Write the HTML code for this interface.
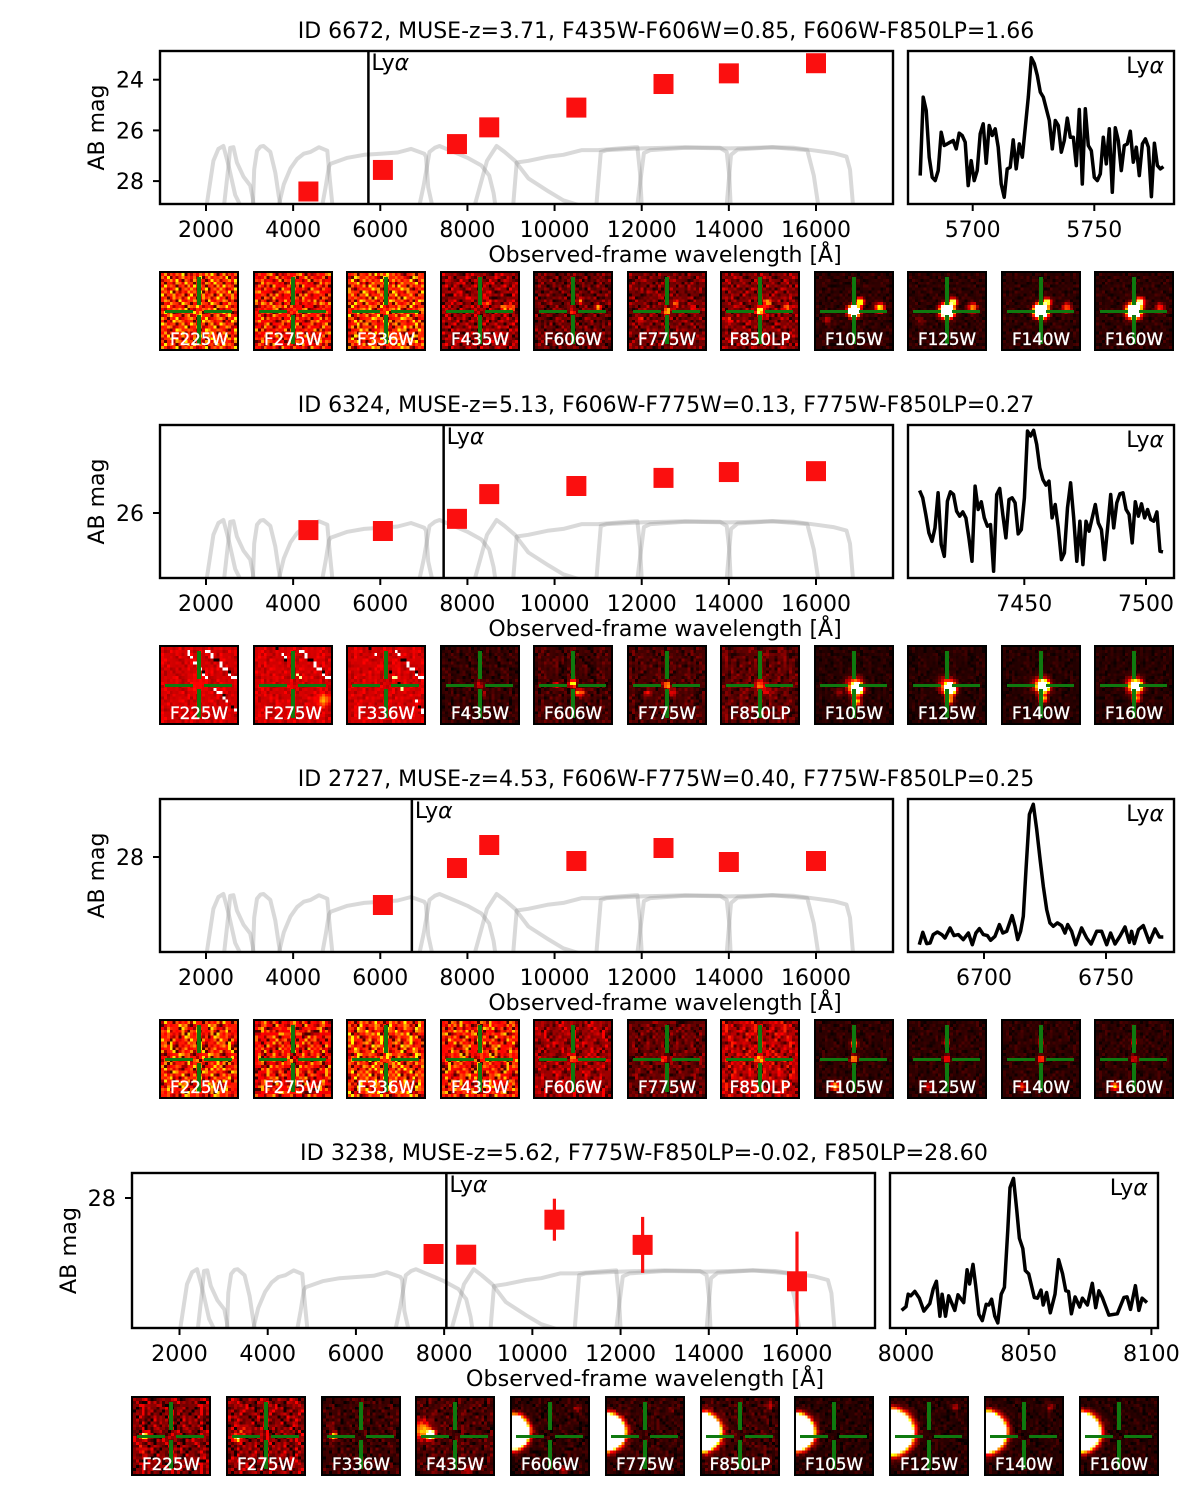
<!DOCTYPE html>
<html lang="en">
<head>
<meta charset="utf-8">
<title>MUSE Lyman-alpha emitters SED panels</title>
<style>
html,body{margin:0;padding:0;background:#fff}
#fig{position:relative;width:1200px;height:1502px;overflow:hidden;background:#fff;font-family:"DejaVu Sans","Liberation Sans",sans-serif}
#fig svg.main{position:absolute;left:0;top:0}
svg text{font-family:"DejaVu Sans","Liberation Sans",sans-serif;fill:#000}
.stamp{position:absolute;box-sizing:border-box;border:2.5px solid #000;background:#000;overflow:hidden}
.stamp canvas{position:absolute;left:0;top:0;width:100%;height:100%;image-rendering:pixelated}
.arm{position:absolute;background:#0f7a0f}
.lab{position:absolute;left:-10px;right:-10px;text-align:center;color:#fff;font-size:16.7px;line-height:20px;top:56px;-webkit-text-stroke:.35px #fff}
</style>
</head>
<body>
<div id="fig">
<svg class="main" id="plot" width="1200" height="1502" viewBox="0 0 1200 1502" xmlns="http://www.w3.org/2000/svg"></svg>
</div>
<script>
// ---- filter throughput curves: [wavelength, relative throughput]
const curveF225W=[[2015,0],[2170,.75],[2285,.95],[2400,1],[2515,.68],[2670,.17],[2785,0]];
const curveF275W=[[2415,0],[2515,.65],[2555,.97],[2630,.98],[2710,.72],[2860,.48],[3015,.33],[3077,.1],[3092,0]];
const curveF336W=[[3077,0],[3107,.6],[3170,.92],[3250,.99],[3320,1],[3475,.9],[3590,.55],[3670,.15],[3707,0]];
const curveF435W=[[3670,0],[3785,.35],[3940,.62],[4090,.78],[4245,.87],[4400,.9],[4590,.98],[4785,.92],[4845,.4],[4900,0]];
const curveF606W=[[4670,0],[4745,.3],[4820,.65],[4860,.7],[5245,.8],[5630,.85],[6015,.87],[6400,.89],[6705,.95],[7010,.87],[7050,.82],[7100,.3],[7190,0]];
const curveF775W=[[6900,0],[7000,.35],[7130,.9],[7250,.97],[7360,1],[7550,.94],[7780,.87],[8000,.8],[8320,.67],[8500,.5],[8600,.2],[8640,0]];
const curveF850LP=[[8170,0],[8300,.35],[8450,.75],[8670,1],[8850,.9],[9090,.75],[9400,.45],[9860,.23],[10200,.08],[10550,0]];
const curveF105W=[[9050,0],[9130,.72],[9400,.75],[9860,.82],[10200,.85],[10630,.93],[11000,.93],[11500,.96],[11900,.98],[11960,.55],[12000,0]];
const curveF125W=[[10960,0],[11060,.9],[11200,.93],[12000,.96],[13000,.98],[13800,.97],[13950,.9],[14010,.5],[14040,0]];
const curveF140W=[[11900,0],[12050,.88],[12200,.93],[13000,.97],[14000,.96],[15000,.98],[15800,.93],[15950,.5],[16050,0]];
const curveF160W=[[13950,0],[14050,.85],[14200,.94],[15000,.98],[15500,.97],[16000,.92],[16400,.88],[16700,.82],[16780,.6],[16850,0]];
const filterCurves=[curveF225W,curveF275W,curveF336W,curveF435W,curveF606W,curveF775W,curveF850LP,curveF105W,curveF125W,curveF140W,curveF160W];
const filterNames=["F225W","F275W","F336W","F435W","F606W","F775W","F850LP","F105W","F125W","F140W","F160W"];

// ---- photometry
const wavesP1=[4350,6060,7760,8500,10500,12500,14000,16000];
const magsP1=[28.41,27.56,26.54,25.88,25.1,24.17,23.75,23.35];
const wavesP2=[4350,6060,7760,8500,10500,12500,14000,16000];
const magsP2=[26.38,26.4,26.13,25.58,25.4,25.22,25.09,25.07];
const wavesP3=[6060,7760,8500,10500,12500,14000,16000];
const magsP3=[28.96,28.22,27.76,28.08,27.82,28.1,28.08];
const wavesP4=[7760,8500,10500,12500,16000];
const magsP4=[28.8,28.81,28.31,28.67,29.19];
const errsP4=[0,0,.3,.4,.71];

// ---- redshift + titles
const redshifts=[3.71,5.13,4.53,5.62];
const titles=["ID 6672, MUSE-z=3.71, F435W-F606W=0.85, F606W-F850LP=1.66","ID 6324, MUSE-z=5.13, F606W-F775W=0.13, F775W-F850LP=0.27","ID 2727, MUSE-z=4.53, F606W-F775W=0.40, F775W-F850LP=0.25","ID 3238, MUSE-z=5.62, F775W-F850LP=-0.02, F850LP=28.60"];
const magTicksP1=[24,26,28];
const magTicksP2=[26];
const magTicksP3=[28];
const magTicksP4=[28];
const waveTicks=[2000,4000,6000,8000,10000,12000,14000,16000];
const specTicksP1=[5700,5750];
const specTicksP2=[7450,7500];
const specTicksP3=[6700,6750];
const specTicksP4=[8000,8050,8100];

// ---- Lya spectra (flux in arbitrary units, wavelength in Angstrom)
const fluxP1=[85,320,280,140,80,70,100,215,175,180,185,190,165,212,205,185,55,130,70,100,210,240,122,235,205,225,170,60,20,105,110,192,105,180,140,230,320,438,420,385,335,320,285,250,165,250,235,155,190,257,200,200,115,283,60,285,175,160,80,70,90,200,120,225,35,228,190,100,175,180,218,125,170,85,180,195,170,22,182,115,105,112];
const fluxP2=[262,240,190,135,110,150,255,100,65,230,258,250,200,185,198,180,120,50,275,205,228,180,155,160,20,250,268,190,120,235,240,225,132,145,240,440,425,442,400,330,295,278,290,180,220,150,55,75,210,285,180,50,170,40,170,140,180,220,165,145,55,150,250,150,225,252,255,205,190,105,228,185,222,180,205,175,170,198,80,78];
const waveP3=[6673.5,6674.9,6676.5,6677.9,6679.2,6680.9,6682.7,6684,6686.1,6687.7,6689.5,6691.5,6693.6,6695.2,6696.7,6698.1,6699.7,6701.4,6702.7,6704.5,6706.3,6707.7,6709.3,6711.5,6712.7,6713.8,6715,6716.1,6717.2,6718.6,6720.2,6721.6,6723,6724.3,6725.7,6727,6728.4,6730.1,6731.8,6733.2,6734.3,6735.9,6737.6,6740,6742.1,6743.9,6746.2,6748.2,6750.3,6751.9,6753.7,6755.7,6757.8,6759.6,6760.5,6761.6,6763.3,6765.3,6767.8,6770.1,6771.9,6773.5];
const fluxP3=[22,59,25,27,52,60,52,42,72,49,52,37,57,22,57,70,52,49,35,47,82,57,62,109,77,37,62,107,247,412,442,367,277,197,127,87,77,87,79,57,82,62,22,72,42,24,62,62,22,57,24,47,75,29,62,25,67,79,29,69,45,45];
const waveP4=[7998.2,8000,8000.9,8001.9,8003.6,8005.4,8007.3,8009.7,8011.1,8012.4,8013.8,8014.7,8016.1,8017.4,8019.9,8021.2,8023.5,8024.9,8025.9,8027.3,8028.4,8029.7,8031.1,8032.7,8033.8,8034.9,8036.2,8037.4,8038.8,8040.1,8041.5,8042.4,8043.8,8045.1,8046.2,8047.6,8048.6,8050,8052.3,8053.6,8055,8055.9,8057.3,8058.8,8060.7,8062.2,8063.8,8065.1,8066.2,8067.4,8068.9,8070.8,8071.9,8073.9,8075.9,8077.3,8078.6,8080,8082.7,8086.1,8088.8,8090.1,8091.5,8093.5,8094.9,8096.2,8098.2];
const fluxP4=[52,63,100,95,108,88,50,72,115,138,35,100,35,95,52,98,75,172,130,188,125,40,22,70,68,85,35,15,100,120,290,415,442,350,265,235,170,160,90,88,112,68,105,45,100,202,160,110,108,42,92,62,88,68,132,60,110,90,38,42,90,92,55,125,52,88,75];
const specRangeP1=[5678.4,5778.4];
const specRangeP2=[7407,7507];

// ---- image stamp levels: [background, noise, sources[x,y,peak,sigma], streaks[x0,y0,x1,y1,level]]
const noiseTile=["38162749051627384950","72904158362719048365","15683920741856302947","60431872956043187295","29574036182957403618","84126905738412690573","47390615284739061528","91658247039165824703","36028471593602847159","58714093265871409326","03286519740328651974","76941352087694135208","21537684902153768490","69480127356948012735","12795340681279534068","85063912478506391247","40319786254031978625","97256048139725604813","34871265903487126590","63102984576310298457"];
const stampsP1=[[.42,.2,[],[]],[.37,.17,[],[]],[.42,.2,[],[]],[.2,.11,[[.82,.46,.5,.025],[.92,.46,.5,.025],[.58,.4,.3,.03]],[]],[.13,.08,[[.5,.5,.25,.03],[.83,.46,.6,.025],[.6,.36,.4,.025]],[]],[.15,.08,[[.5,.5,.6,.03],[.62,.4,.4,.03],[.84,.47,.4,.025],[.15,.62,.25,.03]],[]],[.17,.09,[[.5,.5,.8,.035],[.6,.38,.5,.035],[.85,.46,.5,.03],[.1,.62,.25,.03]],[]],[.05,.03,[[.5,.5,2.5,.045],[.58,.38,.9,.035],[.84,.46,.8,.04],[.15,.62,.25,.035]],[]],[.05,.03,[[.5,.5,3.5,.05],[.58,.38,.9,.035],[.84,.46,.6,.04],[.15,.62,.12,.04]],[]],[.05,.03,[[.5,.5,4,.05],[.58,.38,.9,.035],[.84,.46,.5,.04]],[]],[.05,.03,[[.5,.5,3,.055],[.58,.38,.9,.04],[.84,.46,.4,.04]],[]]];
const stampsP2=[[.29,.04,[[.5,.5,.06,.08]],[[.35,.05,.6,.4,.9],[.6,.05,.98,.42,.8],[.72,.55,.98,.82,.9]]],[.29,.04,[[.9,.7,.35,.05]],[[.3,.03,.42,.18,.9],[.58,.03,.98,.42,.9],[.55,.35,.6,.4,.7]]],[.29,.04,[],[[.3,.03,.36,.08,.9],[.6,.03,.98,.42,.9],[.55,.32,.72,.55,.7],[.9,.72,.98,.85,.8]]],[.06,.04,[[.5,.5,.22,.04],[.56,.62,.15,.03]],[]],[.08,.05,[[.5,.48,.8,.03],[.55,.6,.4,.035],[.28,.5,.35,.025],[.62,.6,.4,.03]],[]],[.09,.05,[[.5,.5,.6,.03],[.55,.6,.3,.035],[.25,.6,.25,.03]],[]],[.12,.06,[[.5,.5,.45,.04],[.58,.58,.25,.035]],[]],[.04,.025,[[.5,.5,.5,.07],[.54,.55,2.5,.045],[.53,.72,.8,.035],[.3,.6,.15,.04]],[]],[.04,.025,[[.5,.5,.45,.07],[.54,.55,2.2,.045],[.53,.7,.7,.035]],[]],[.04,.025,[[.5,.5,.5,.07],[.53,.52,2.2,.045],[.53,.68,.7,.035]],[]],[.04,.025,[[.5,.5,.5,.07],[.53,.52,1.8,.045],[.53,.68,.6,.035]],[]]];
const stampsP3=[[.4,.2,[],[]],[.36,.18,[],[]],[.42,.21,[],[]],[.38,.19,[],[]],[.21,.09,[[.5,.5,.6,.025]],[]],[.13,.07,[[.45,.5,.4,.03]],[]],[.25,.11,[[.5,.5,.6,.03]],[]],[.05,.03,[[.5,.5,.7,.03],[.5,.3,.6,.03],[.25,.86,.9,.035]],[]],[.05,.03,[[.5,.5,.4,.03],[.5,.28,.25,.03],[.25,.86,.3,.035]],[]],[.05,.03,[[.5,.5,.5,.03],[.5,.28,.25,.03],[.25,.86,.4,.035]],[]],[.05,.03,[[.5,.5,.35,.03],[.5,.28,.3,.03],[.25,.86,.7,.035]],[]]];
const stampsP4=[[.17,.11,[[.15,.5,.8,.03],[.1,.68,.15,.04]],[]],[.18,.11,[[.12,.52,.7,.035],[.2,.42,.25,.035]],[]],[.07,.05,[[.14,.5,.8,.03],[.1,.35,.15,.03]],[]],[.09,.06,[[.07,.42,.6,.08],[.18,.48,1.5,.035],[.68,.95,.25,.03]],[]],[.05,.04,[[0,.45,30,.085],[.85,.14,.25,.03],[.68,.95,.25,.03]],[]],[.06,.04,[[0,.45,30,.09],[.85,.14,.12,.03]],[]],[.07,.05,[[0,.45,30,.093],[.9,.1,.2,.03]],[]],[.04,.03,[[0,.45,30,.09]],[]],[.04,.03,[[0,.45,30,.11],[.85,.12,.25,.03]],[]],[.04,.03,[[0,.45,30,.1],[.85,.12,.25,.03]],[]],[.04,.03,[[0,.45,30,.095]],[]]];

// ---- helpers
const NS="http://www.w3.org/2000/svg";
const plot=document.getElementById("plot");
const fig=document.getElementById("fig");
function svgEl(tag,attrs,parent){
  const el=document.createElementNS(NS,tag);
  for(const k in attrs){el.setAttribute(k,attrs[k]);}
  (parent||plot).appendChild(el);
  return el;
}
function linear(v0,p0,v1,p1){return v=>p0+(v-v0)*(p1-p0)/(v1-v0);}
function lya(z){return 1216*(1+z);}
function uniformWaves(n,range){return Array.from({length:n},(_,i)=>range[0]+i*(range[1]-range[0])/(n-1));}

const panels=[
 {key:"p1",F:22,top:51,bottom:204,left:160,right:893,sl:908,sr:1174,xs:linear(2000,206,16000,816),ys:linear(24,79.7,28,181.1),sx:linear(5700,972.7,5750,1094.3),magTicks:magTicksP1,specTicks:specTicksP1,waves:wavesP1,mags:magsP1,errs:null,specW:uniformWaves(fluxP1.length,specRangeP1),specF:fluxP1,labX:96,tc:666,lx:665,stampTop:271,stampX:159,stampStep:93.5},
 {key:"p2",F:22,top:425,bottom:578,left:160,right:893,sl:908,sr:1174,xs:linear(2000,206,16000,816),ys:linear(26,513,28,603),sx:linear(7450,1024.3,7500,1146),magTicks:magTicksP2,specTicks:specTicksP2,waves:wavesP2,mags:magsP2,errs:null,specW:uniformWaves(fluxP2.length,specRangeP2),specF:fluxP2,labX:96,tc:666,lx:665,stampTop:645,stampX:159,stampStep:93.5},
 {key:"p3",F:22,top:799,bottom:952,left:160,right:893,sl:908,sr:1174,xs:linear(2000,206,16000,816),ys:linear(28,857,30,957),sx:linear(6700,984,6750,1106),magTicks:magTicksP3,specTicks:specTicksP3,waves:wavesP3,mags:magsP3,errs:null,specW:waveP3,specF:fluxP3,labX:96,tc:666,lx:665,stampTop:1019,stampX:159,stampStep:93.5},
 {key:"p4",F:22.3,top:1173,bottom:1328,left:132,right:875,sl:890,sr:1158,xs:linear(2000,179.5,16000,797),ys:linear(28,1198,30,1338),sx:linear(8000,906,8050,1028.7),magTicks:magTicksP4,specTicks:specTicksP4,waves:wavesP4,mags:magsP4,errs:errsP4,specW:waveP4,specF:fluxP4,labX:68,tc:644,lx:645,stampTop:1396,stampX:131,stampStep:94.75}
];
const stampSets=[stampsP1,stampsP2,stampsP3,stampsP4];

panels.forEach((p,pi)=>{
  const H=p.bottom-p.top;
  const F=p.F;
  const defs=svgEl("defs",{});
  const cp=svgEl("clipPath",{id:"clip-"+p.key},defs);
  svgEl("rect",{x:p.left,y:p.top,width:p.right-p.left,height:H},cp);
  const g=svgEl("g",{"clip-path":"url(#clip-"+p.key+")"});
  
  

  filterCurves.forEach((c,ci)=>{
    const d=c.map((pt,i)=>(i?"L":"M")+p.xs(pt[0]).toFixed(1)+" "+(p.bottom-pt[1]*59*H/153+1).toFixed(1)).join(" ");
    const path=svgEl("path",{d:d,fill:"none",stroke:"#8c8c8c","stroke-opacity":".33","stroke-width":4,"stroke-linejoin":"round"},g);
    
    
  });

  const lyX=p.xs(lya(redshifts[pi]));
  const line=svgEl("line",{x1:lyX,x2:lyX,y1:p.top,y2:p.bottom,stroke:"#000","stroke-width":2.5},g);
  
  

  p.waves.forEach((w,i)=>{
    const cx=p.xs(w),cy=p.ys(p.mags[i]);
    if(p.errs&&p.errs[i]>0){
      const up=p.ys(p.mags[i]-p.errs[i]),dn=p.ys(p.mags[i]+p.errs[i]);
      const eb=svgEl("line",{x1:cx,x2:cx,y1:up,y2:dn,stroke:"#fb1010","stroke-width":3.2},g);
      
      
    }
    const r=svgEl("rect",{x:cx-10,y:cy-10,width:20,height:20,fill:"#fb0f0f"},g);
    
    
  });

  const box=svgEl("rect",{x:p.left,y:p.top,width:p.right-p.left,height:H,fill:"none",stroke:"#000","stroke-width":2.4});
  
  

  waveTicks.forEach(t=>{
    const x=p.xs(t);
    const tk=svgEl("line",{x1:x,x2:x,y1:p.bottom,y2:p.bottom+7,stroke:"#000","stroke-width":2});
    
    
    const tx=svgEl("text",{x:x,y:p.bottom+33,"text-anchor":"middle","font-size":F});
    tx.textContent=String(t);
    
    
  });
  p.magTicks.forEach(t=>{
    const y=p.ys(t);
    const tk=svgEl("line",{x1:p.left-7,x2:p.left,y1:y,y2:y,stroke:"#000","stroke-width":2});
    
    
    const tx=svgEl("text",{x:p.left-16,y:y+8,"text-anchor":"end","font-size":F});
    tx.textContent=String(t);
    
    
  });

  const ttl=svgEl("text",{x:p.tc,y:p.top-13,"text-anchor":"middle","font-size":F});
  ttl.textContent=titles[pi];
  
  

  const xl=svgEl("text",{x:p.lx,y:p.bottom+58,"text-anchor":"middle","font-size":F});
  xl.textContent="Observed-frame wavelength [Å]";
  
  

  const yMid=(p.top+p.bottom)/2;
  const yl=svgEl("text",{x:p.labX+8,y:yMid,"text-anchor":"middle","font-size":F,transform:"rotate(-90 "+(p.labX+8)+" "+yMid+")"});
  yl.textContent="AB mag";
  
  

  const lt=svgEl("text",{x:lyX+3,y:p.top+19,"font-size":F});
  lt.textContent="Ly";
  const lta=svgEl("tspan",{"font-style":"italic"},lt);
  lta.textContent="α";
  
  

  const cp2=svgEl("clipPath",{id:"sclip-"+p.key},defs);
  svgEl("rect",{x:p.sl,y:p.top,width:p.sr-p.sl,height:H},cp2);
  const sy=linear(0,p.bottom,458,p.top);
  const sd=p.specF.map((f,i)=>(i?"L":"M")+p.sx(p.specW[i]).toFixed(1)+" "+sy(f).toFixed(1)).join(" ");
  const sp=svgEl("path",{d:sd,fill:"none",stroke:"#000","stroke-width":3.5,"stroke-linejoin":"round","clip-path":"url(#sclip-"+p.key+")"});
  
  

  const sbox=svgEl("rect",{x:p.sl,y:p.top,width:p.sr-p.sl,height:H,fill:"none",stroke:"#000","stroke-width":2.4});
  
  

  p.specTicks.forEach(t=>{
    const x=p.sx(t);
    const tk=svgEl("line",{x1:x,x2:x,y1:p.bottom,y2:p.bottom+7,stroke:"#000","stroke-width":2});
    
    
    const tx=svgEl("text",{x:x,y:p.bottom+33,"text-anchor":"middle","font-size":F});
    tx.textContent=String(t);
    
    
  });

  const st=svgEl("text",{x:p.sr-10,y:p.top+22,"text-anchor":"end","font-size":F});
  st.textContent="Ly";
  const sta=svgEl("tspan",{"font-style":"italic"},st);
  sta.textContent="α";
  
  

  stampSets[pi].forEach((s,si)=>drawStamp(p,pi,s,si));
});

function heat(v){
  const c=x=>Math.max(0,Math.min(1,x));
  return [Math.round(255*c(.04+v/.365)),Math.round(255*c((v-.365)/.381)),Math.round(255*c((v-.746)/.254))];
}
function drawStamp(p,pi,s,si){
  const N=26,size=80;
  const left=Math.round(p.stampX+si*p.stampStep);
  const d=document.createElement("div");
  d.className="stamp";
  d.style.left=left+"px";
  d.style.top=p.stampTop+"px";
  d.style.width=size+"px";
  d.style.height=size+"px";
  
  
  const cv=document.createElement("canvas");
  cv.width=N;cv.height=N;
  
  
  const ctx=cv.getContext("2d");
  const img=ctx.createImageData(N,N);
  const ox=(si*7+pi*3)%20,oy=(si*11+pi*13)%20,mx=[1,3,7,9][(si+pi)%4];
  for(let r=0;r<N;r++){for(let c=0;c<N;c++){
    const row=noiseTile[(r+oy)%20];
    const dg=+row[(c*mx+ox+r*pi)%20];
    const n=(dg-4.5)/4.5;
    let v=s[0]+s[1]*n*Math.abs(n)*1.5;
    const x=(c+.5)/N,y=(r+.5)/N;
    s[2].forEach(q=>{const a=(x-q[0]),b=(y-q[1]);v+=q[2]*Math.exp(-(a*a+b*b)/(2*q[3]*q[3]));});
    s[3].forEach(l=>{
      const dx=l[2]-l[0],dy=l[3]-l[1],t=Math.max(0,Math.min(1,((x-l[0])*dx+(y-l[1])*dy)/(dx*dx+dy*dy)));
      const e=Math.hypot(x-l[0]-t*dx,y-l[1]-t*dy);
      if(e<.02&&(r+c)%3!==0){v=(r%4===0)?0:l[4]+.2;}
    });
    const col=heat(v);const k=(r*N+c)*4;
    img.data[k]=col[0];img.data[k+1]=col[1];img.data[k+2]=col[2];img.data[k+3]=255;
  }}
  ctx.putImageData(img,0,0);
  d.appendChild(cv);
  [[4,36.5,28,3.8],[43,36.5,28,3.8],[36.2,4,3.8,28],[36.2,42,3.8,29]].forEach(a=>{
    const arm=document.createElement("div");
    arm.className="arm";
    arm.style.left=a[0]+"px";arm.style.top=a[1]+"px";arm.style.width=a[2]+"px";arm.style.height=a[3]+"px";
    
    
    d.appendChild(arm);
  });
  const lab=document.createElement("div");
  lab.className="lab";
  lab.textContent=filterNames[si];
  
  
  d.appendChild(lab);
  fig.appendChild(d);
}
</script>
</body>
</html>
